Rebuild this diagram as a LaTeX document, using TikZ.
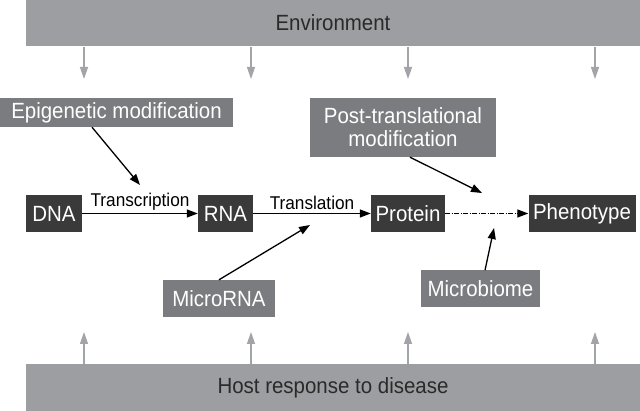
\documentclass[tikz,border=0pt]{standalone}
\usepackage{fontspec}
\setmainfont{Liberation Sans}[FakeStretch=0.93]
\usetikzlibrary{arrows.meta}
\definecolor{barc}{HTML}{9D9EA1}
\definecolor{boxc}{HTML}{7B7C7F}
\definecolor{mainc}{HTML}{3A3A3A}
\definecolor{garrow}{HTML}{A3A4A7}
\definecolor{bartext}{HTML}{2A2A2A}
\begin{document}
\begin{tikzpicture}[x=1pt,y=-1pt,
  bigfont/.style={font=\fontsize{22}{25}\selectfont},
  bar/.style={fill=barc,draw=none,inner sep=0pt,text=bartext,bigfont,minimum width=614,minimum height=47},
  sidebox/.style={fill=boxc,draw=none,inner sep=0pt,text=white,bigfont,align=center},
  mainbox/.style={fill=mainc,draw=none,inner sep=0pt,text=white,bigfont,minimum height=37},
  garr/.style={draw=garrow,line width=1.3pt,-{Triangle[length=12pt,width=8pt]}},
  barr/.style={draw=black,line width=1.3pt,-{Triangle[length=11pt,width=8pt]}},
  lab/.style={font=\fontsize{18.5}{21}\selectfont,inner sep=0pt}
]
\useasboundingbox (0,0) rectangle (640,411);
\fill[white] (0,0) rectangle (640,411);

\node[bar] (env) at (333,23) {Environment};
\node[bar] (host) at (333,387.5) {Host response to disease};

\node[sidebox,minimum width=233,minimum height=29] (epi) at (116.5,112.5) {Epigenetic modification};
\node[sidebox,minimum width=186,minimum height=59] (post) at (403,127.5) {Post-translational\\[-2pt]modification};
\node[sidebox,minimum width=112,minimum height=37] (mirna) at (219,298.5) {MicroRNA};
\node[sidebox,minimum width=119,minimum height=37] (micro) at (480.5,289) {Microbiome};

\node[mainbox,minimum width=56] (dna) at (54,213.5) {DNA};
\node[mainbox,minimum width=55] (rna) at (225.5,213.5) {RNA};
\node[mainbox,minimum width=74] (prot) at (408,213.5) {Protein};
\node[mainbox,minimum width=107] (phen) at (582,213.5) {Phenotype};

% environment and host arrows
\foreach \i/\x in {1/84,2/251,3/408,4/595}{
  \coordinate (et\i) at (\x,79);
  \coordinate (ht\i) at (\x,332);
  \draw[garr] (et\i |- env.south) -- (et\i);
  \draw[garr] (ht\i |- host.north) -- (ht\i);
}

% main flow
\draw[barr] (dna.east) -- node[lab,above=3pt] {Transcription} (rna.west);
\draw[barr] (rna.east) -- node[lab,above=3pt] {Translation} (prot.west);
\draw[draw=black,line width=1.3pt,dash pattern=on 5pt off 1.5pt on 1pt off 1.5pt,-{Triangle[length=11pt,width=8pt]}] (prot.east) -- (phen.west);

% modifiers
\coordinate (eS) at (92,0);
\coordinate (eT) at (140,185);
\draw[barr] (eS |- epi.south) -- (eT);
\coordinate (pS) at (410,0);
\coordinate (pT) at (482,193);
\draw[barr] (pS |- post.south) -- (pT);
\coordinate (mS) at (219,0);
\coordinate (mT) at (310,225);
\draw[barr] (mS |- mirna.north) -- (mT);
\coordinate (bS) at (485,0);
\coordinate (bT) at (494,228);
\draw[barr] (bS |- micro.north) -- (bT);
\end{tikzpicture}
\end{document}
